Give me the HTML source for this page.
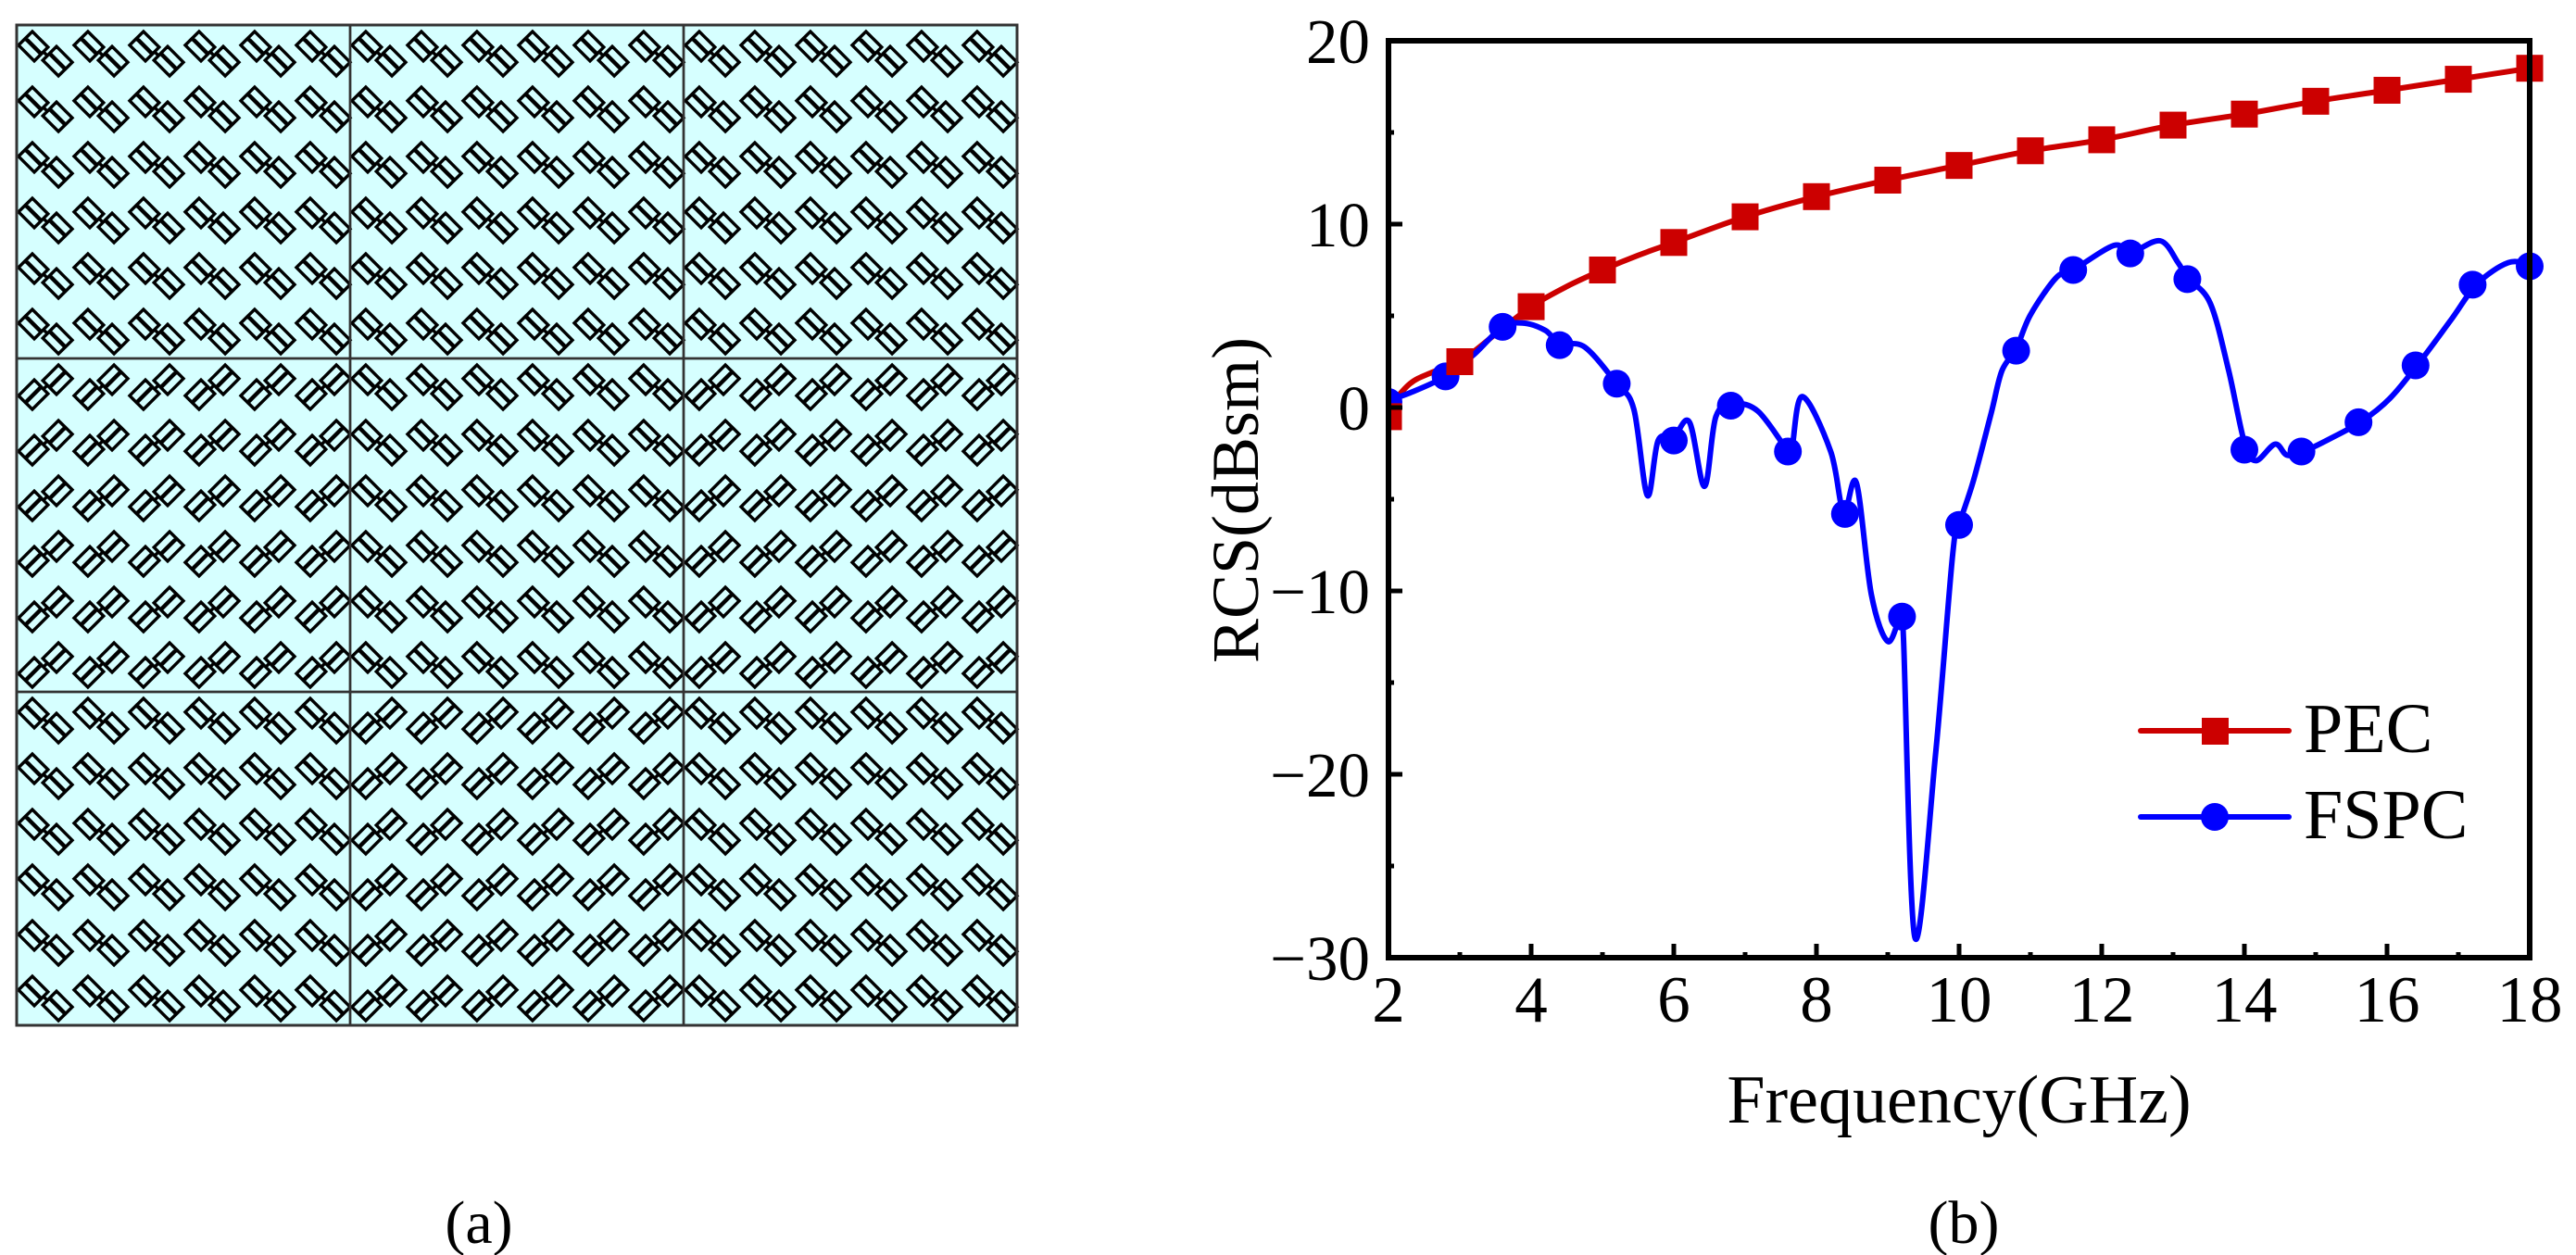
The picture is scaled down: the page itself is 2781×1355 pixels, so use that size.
<!DOCTYPE html>
<html><head><meta charset="utf-8"><style>
html,body{margin:0;padding:0;background:#fff;}
svg{display:block;}
text{font-family:"Liberation Serif","DejaVu Serif",serif;fill:#000;}
</style></head><body>
<svg id="fig" width="2781" height="1355" viewBox="0 0 2781 1355" xmlns="http://www.w3.org/2000/svg">
<rect x="18" y="27" width="1080" height="1080" fill="#d6ffff"/>
<g id="panel-a"></g>
<rect x="18" y="27" width="1080" height="1080" fill="none" stroke="#333" stroke-width="3"/>
<text x="517" y="1342" font-size="66" text-anchor="middle">(a)</text>
<g id="chart"></g>
<text x="2120" y="1342" font-size="66" text-anchor="middle">(b)</text>
</svg>
<script>
const NS='http://www.w3.org/2000/svg';
function mk(tag,attrs,parent){const e=document.createElementNS(NS,tag);for(const k in attrs)e.setAttribute(k,attrs[k]);parent.appendChild(e);return e;}

// panel a: element loops in (a along NW-SE diagonal, b across it)
const elemRects=[[-27,-3,-14,-4],[-27,-3,-3,7],[3,27,-7,3],[3,27,4,14]];
function elemPath(cx,cy,flip){
  const k=Math.SQRT1_2;
  const tr=(a,b)=>{let X=(a+b)*k,Y=(a-b)*k;if(flip)Y=-Y;return (cx+X).toFixed(1)+','+(cy+Y).toFixed(1);};
  let d='';
  elemRects.forEach(([a0,a1,b0,b1])=>{
    d+='M'+tr(a0,b0)+'L'+tr(a1,b0)+'L'+tr(a1,b1)+'L'+tr(a0,b1)+'Z';
  });
  d+='M'+tr(-4,0)+'L'+tr(4,0);
  return d;
}
const pa=document.getElementById('panel-a');
for(let r=0;r<3;r++)for(let c=0;c<3;c++){
  const flip=(r>=1 && (r+c)%2===1);
  let d='';
  for(let i=0;i<6;i++)for(let j=0;j<6;j++){
    d+=elemPath(18+c*360+j*60+31,27+r*360+i*60+31,flip);
  }
  const blk=mk('path',{d:d,fill:'none',stroke:'#000','stroke-width':3.4},pa);
  
  
  const bd=mk('rect',{x:18+c*360,y:27+r*360,width:360,height:360,fill:'none',stroke:'#333','stroke-width':2.5},pa);
  
  
}

// chart data
const xTicks=[2,4,6,8,10,12,14,16,18];
const yTicks=[-30,-20,-10,0,10,20];
const yTickLabels=['\u221230','\u221220','\u221210','0','10','20'];
const pecFreq=[2,3,4,5,6,7,8,9,10,11,12,13,14,15,16,17,18];
const pecVal=[-0.5,2.5,5.5,7.5,9.0,10.4,11.5,12.4,13.2,14.0,14.6,15.4,16.0,16.7,17.3,17.9,18.5];
const pecLineFreq=[2,2.3,2.6,3,3.5,4,4.5,5,5.5,6,7,8,9,10,11,12,13,14,15,16,17,18];
const pecLineVal=[0,1.3,1.9,2.5,4.0,5.5,6.6,7.5,8.3,9.0,10.4,11.5,12.4,13.2,14.0,14.6,15.4,16.0,16.7,17.3,17.9,18.5];
const fspcFreq=[2,2.8,3.6,4.4,5.2,6.0,6.8,7.6,8.4,9.2,10.0,10.8,11.6,12.4,13.2,14.0,14.8,15.6,16.4,17.2,18.0];
const fspcVal=[0.3,1.7,4.4,3.4,1.3,-1.8,0.1,-2.4,-5.8,-11.4,-6.4,3.1,7.5,8.4,7.0,-2.3,-2.4,-0.8,2.3,6.7,7.7];
const fspcLineFreq=[2.0,2.3,2.8,3.2,3.6,3.9,4.2,4.4,4.75,5.2,5.44,5.63,5.78,6.0,6.22,6.43,6.59,6.84,7.18,7.57,7.65,7.8,8.2,8.38,8.56,8.77,9.0,9.18,9.22,9.38,9.67,9.91,10.0,10.2,10.45,10.6,10.8,11.0,11.36,11.6,12.17,12.4,12.82,13.07,13.2,13.52,13.78,14.0,14.16,14.43,14.6,14.83,15.2,15.64,16.04,16.45,16.9,17.27,17.7,18.0];
const fspcLineVal=[0.4,0.8,1.7,2.9,4.4,4.6,4.2,3.5,3.3,1.3,-0.1,-4.8,-1.8,-1.6,-0.8,-4.3,-0.5,0.2,-0.2,-2.2,-2.4,0.6,-2.4,-5.7,-4.1,-10.2,-12.75,-11.4,-12.5,-28.9,-18.9,-8.0,-6.4,-4.0,-0.3,2.0,3.2,5.05,7.07,7.5,8.84,8.45,9.09,7.9,7.07,5.7,2.0,-1.9,-2.9,-2.0,-2.6,-2.4,-1.7,-0.76,0.5,2.44,4.8,6.77,7.9,7.8];

const X0=1499,X1=2731,Y0=1034,Y1=44,xmin=2,xmax=18,ymin=-30,ymax=20;
function sx(v){return X0+(v-xmin)/(xmax-xmin)*(X1-X0);}
function sy(v){return Y0-(v-ymin)/(ymax-ymin)*(Y0-Y1);}
function smoothPath(fx,fy){
  const p=fx.map((f,i)=>[sx(f),sy(fy[i])]);
  let d='M'+p[0][0].toFixed(1)+','+p[0][1].toFixed(1);
  for(let i=0;i<p.length-1;i++){
    const p0=p[Math.max(0,i-1)],p1=p[i],p2=p[i+1],p3=p[Math.min(p.length-1,i+2)];
    const t=0.5/3;
    const c1=[p1[0]+(p2[0]-p0[0])*t,p1[1]+(p2[1]-p0[1])*t];
    const c2=[p2[0]-(p3[0]-p1[0])*t,p2[1]-(p3[1]-p1[1])*t];
    d+=' C'+c1[0].toFixed(1)+','+c1[1].toFixed(1)+' '+c2[0].toFixed(1)+','+c2[1].toFixed(1)+' '+p2[0].toFixed(1)+','+p2[1].toFixed(1);
  }
  return d;
}
const ch=document.getElementById('chart');
const clip=mk('clipPath',{id:'plotclip'},ch);
mk('rect',{x:X0,y:Y1-20,width:X1-X0+20,height:Y0-Y1+40},clip);
const plot=mk('g',{'clip-path':'url(#plotclip)'},ch);



const pl=mk('path',{d:smoothPath(pecLineFreq,pecLineVal),fill:'none',stroke:'#cc0000','stroke-width':6,'stroke-linejoin':'round'},plot);


const fl=mk('path',{d:smoothPath(fspcLineFreq,fspcLineVal),fill:'none',stroke:'#0000ff','stroke-width':6,'stroke-linejoin':'round'},plot);


fspcFreq.forEach((f,i)=>{
  const c=mk('ellipse',{cx:sx(f),cy:sy(fspcVal[i]),rx:15,ry:15,fill:'#0000ff'},plot);
  
  
});
pecFreq.forEach((f,i)=>{
  const r=mk('rect',{x:sx(f)-14.5,y:sy(pecVal[i])-14.5,width:29,height:29,fill:'#cc0000'},plot);
  
  
});

// axes
const ax=mk('rect',{x:X0,y:Y1,width:X1-X0,height:Y0-Y1,fill:'none',stroke:'#000','stroke-width':6},ch);


for(let v=xmin;v<=xmax;v+=1){
  const major=xTicks.includes(v);
  const t=mk('line',{x1:sx(v),x2:sx(v),y1:Y0,y2:Y0-(major?15:6),stroke:'#000','stroke-width':5},ch);
  
  
}
xTicks.forEach(v=>{
  const t=mk('text',{x:sx(v),y:1103,'font-size':71,'text-anchor':'middle'},ch);
  t.textContent=String(v);
  
  
});
for(let v=ymin;v<=ymax;v+=5){
  const major=yTicks.includes(v);
  const t=mk('line',{x1:X0,x2:X0+(major?15:6),y1:sy(v),y2:sy(v),stroke:'#000','stroke-width':5},ch);
  
  
}
yTicks.forEach((v,i)=>{
  const t=mk('text',{x:1479,y:sy(v)+24,'font-size':69,'text-anchor':'end'},ch);
  t.textContent=yTickLabels[i];
  
  
});
const xt=mk('text',{x:2115,y:1212,'font-size':74,'text-anchor':'middle'},ch);
xt.textContent='Frequency(GHz)';


const yt=mk('text',{x:0,y:0,'font-size':72,'text-anchor':'middle',transform:'translate(1358,540) rotate(-90)'},ch);
yt.textContent='RCS(dBsm)';



// legend
const lg=mk('g',{},ch);


const l1=mk('g',{},lg);


mk('line',{x1:2311,x2:2471,y1:789,y2:789,stroke:'#cc0000','stroke-width':6,'stroke-linecap':'round'},l1);
mk('rect',{x:2377,y:775,width:29,height:29,fill:'#cc0000'},l1);
const t1=mk('text',{x:2487,y:812,'font-size':76},l1);t1.textContent='PEC';
const l2=mk('g',{},lg);


mk('line',{x1:2311,x2:2471,y1:882,y2:882,stroke:'#0000ff','stroke-width':6,'stroke-linecap':'round'},l2);
mk('circle',{cx:2391,cy:882,r:15,fill:'#0000ff'},l2);
const t2=mk('text',{x:2487,y:905,'font-size':76},l2);t2.textContent='FSPC';
</script>
</body></html>
